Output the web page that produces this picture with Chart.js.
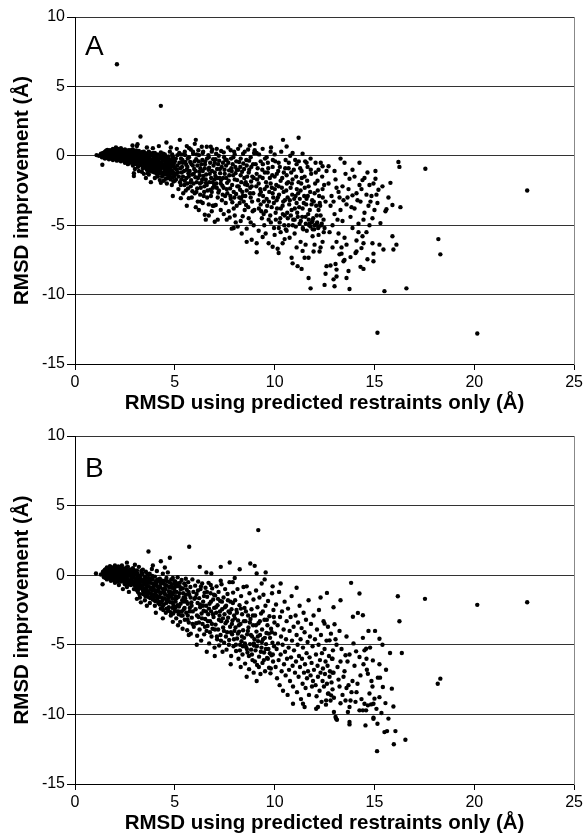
<!DOCTYPE html>
<html><head><meta charset="utf-8">
<script src="https://cdn.jsdelivr.net/npm/chart.js@4.4.0/dist/chart.umd.min.js"></script>
<style>html,body{margin:0;padding:0;background:#fff;}canvas{display:block;}</style>
</head><body>
<canvas id="cA" width="586" height="417"></canvas>
<canvas id="cB" width="586" height="417"></canvas>
<script>
// ---- axis text ----
const xTitle = 'RMSD using predicted restraints only (Å)';
const yTitle = 'RMSD improvement (Å)';
const xRange = [0, 25];
const yRange = [-15, 10];
const tickStep = 5;
const panelLabels = ['A', 'B'];

// ---- Panel A values [RMSD predicted-only, improvement] ----
const outliersA = [[2.1,6.6],[4.3,3.6],[1.08,0.05],[1.37,-0.65],[3.28,1.39],[2.88,0.74],[3.13,0.84],[4.58,0.96],[5.25,1.15],[6.05,1.15],[6.0,0.86],[7.67,1.15],[9.0,0.86],[10.42,1.15],[10.6,0.67],[11.2,1.3],[8.28,0.74],[8.75,0.74]];
const coreA = [[1.2,0.0],[1.3,0.15],[1.35,-0.1],[1.4,0.2],[1.45,0.0],[1.5,-0.2],[1.5,0.3],[1.55,0.1],[1.6,-0.05],[1.6,0.35],[1.65,0.2],[1.7,-0.25],[1.7,0.05],[1.75,0.4],[1.8,0.15],[1.8,-0.1],[1.85,0.3],[1.9,-0.3],[1.9,0.0],[1.9,0.5],[1.95,0.2],[2.0,-0.15],[2.0,0.1],[2.0,0.4],[2.05,0.6],[2.1,-0.35],[2.1,0.25],[2.1,0.0],[2.15,0.45],[2.2,-0.2],[2.2,0.15],[2.25,0.35],[2.25,-0.05],[2.3,0.55],[2.3,-0.4],[2.35,0.1],[2.4,0.3],[2.4,-0.25],[2.45,-0.05],[2.5,0.45],[2.5,0.15],[2.5,-0.5],
[2.55,-0.3],[2.6,0.3],[2.6,0.0],[2.65,-0.6],[2.7,0.4],[2.7,-0.2],[2.75,0.1],[2.8,-0.45],[2.8,0.25],[2.85,-0.1],[2.9,0.45],[2.9,-0.7],[2.95,0.0],[3.0,-0.35],[3.0,0.3],[3.05,-0.55],[3.1,0.1],[3.1,-0.2],[3.15,-0.8],[3.2,0.35],[3.2,-0.05],[3.25,-0.45],[3.3,0.2],[3.3,-0.65],[3.35,-0.25],[3.4,0.05],[3.4,-0.9],[3.45,0.3],[3.5,-0.4],[3.5,-0.1],
[3.55,-0.7],[3.6,0.15],[3.6,-1.0],[3.65,-0.3],[3.7,-0.55],[3.7,0.3],[3.75,-0.05],[3.8,-0.85],[3.8,-0.35],[3.85,0.1],[3.9,-1.15],[3.9,-0.6],[3.95,-0.2],[4.0,0.2],[4.0,-0.9],[4.05,-0.45],[4.1,-1.3],[4.1,0.0],[4.15,-0.7],[4.2,-0.25],[4.25,-1.05],[4.3,0.25],[4.3,-0.5],[4.35,-0.85],[4.4,-1.4],[4.4,-0.1],[4.45,-0.6],[4.5,0.1],[4.5,-1.15],[4.55,-0.35],[4.6,-0.8],[4.65,-1.6],[4.7,-0.2],[4.7,-1.0],[4.75,0.3],[4.8,-0.55],[4.85,-1.3],[4.9,-0.05],[4.95,-0.8],[5.0,-1.8],[5.0,-0.4],
[2.95,-1.25],[2.95,-1.45],[3.55,-1.6],[3.8,-1.9],[4.3,-1.95],[3.2,-1.1],[4.0,-1.6],[4.6,-2.0],[4.9,-2.9],[4.45,-1.8],[3.7,-1.35],
[3.1,0.7],[3.6,0.6],[4.2,0.7],[3.9,0.55],[4.8,0.6]];
const coreA2 = [[1.42,0.08],[1.53,-0.07],[1.58,0.22],[1.63,0.03],[1.68,0.31],[1.72,-0.12],[1.77,0.18],[1.83,-0.02],[1.87,0.42],[1.93,0.07],[1.97,-0.22],[2.03,0.28],[2.07,-0.08],[2.12,0.52],[2.17,0.02],[2.23,-0.28],[2.27,0.22],[2.33,-0.12],[2.37,0.42],[2.43,0.12],[2.47,-0.38],[2.53,0.28],[2.57,0.05],[2.62,-0.42],[2.67,0.18],[2.72,-0.08],[2.77,0.36],[2.82,-0.28],[2.87,0.12],[2.92,-0.52],[2.97,0.22],[3.02,-0.12],[3.07,0.38],[3.12,-0.4],[3.17,0.02],[3.22,-0.7],[3.27,0.12],[3.32,-0.38],[3.37,0.28],[3.42,-0.55],[3.47,-0.2],[3.52,0.18],[3.57,-0.45],[3.62,-0.15],[3.67,-0.82],[3.72,0.1],[3.77,-0.5],[3.82,-1.1],[3.87,-0.25],[3.92,0.2],[3.97,-0.75],[4.02,-0.3],[4.07,-1.05],[4.12,0.1],[4.17,-0.48],[4.22,-0.9],[4.27,-0.15],[4.32,-1.2],[4.37,-0.35],[4.42,0.15],[4.47,-0.95],[4.52,-0.55],[4.57,-1.35],[4.62,-0.1],[4.67,-0.65],[4.72,-1.45],[4.77,-0.35],[4.82,-1.05],[4.87,0.1],[4.92,-0.6],[4.97,-1.25],
[1.48,0.15],[1.62,0.42],[1.78,-0.2],[1.88,-0.12],[1.98,0.45],[2.08,0.15],[2.18,0.32],[2.28,0.05],[2.38,-0.15],[2.48,0.32],[2.58,-0.2],[2.68,0.05],[2.78,-0.15],[2.88,0.32],[2.98,-0.22],[3.08,-0.3],[3.18,0.2],[3.28,-0.2],[3.38,-0.45],[3.48,0.1],[3.58,-0.28],[3.68,-0.05],[3.78,0.18],[3.88,-0.72],[3.98,-0.45],[4.08,-0.15],[4.18,-1.15],[4.28,-0.7],[4.38,-0.05],[4.48,-0.3],[4.58,-1.1],[4.68,-0.42],[4.78,-0.85],[4.88,-1.55],[4.98,-0.25],
[3.0,-0.95],[3.35,-1.15],[3.65,-1.25],[4.15,-1.5],[4.55,-1.65],[4.85,-2.1],[4.25,-1.75],[3.45,-1.3]];
const coreA3 = [[1.46,-0.12],[1.51,0.18],[1.56,0.36],[1.59,-0.15],[1.64,-0.02],[1.69,0.12],[1.73,0.26],[1.76,-0.05],[1.81,0.34],[1.84,0.08],[1.89,0.22],[1.91,-0.06],[1.94,0.38],[1.99,-0.02],[2.04,0.16],[2.06,-0.25],[2.09,0.38],[2.13,0.08],[2.16,-0.14],[2.19,0.26],[2.24,0.44],[2.26,-0.18],[2.29,0.12],[2.34,-0.3],[2.36,0.22],[2.41,0.0],[2.44,0.38],[2.46,-0.16],[2.51,-0.3],[2.54,0.1],[2.59,0.38],[2.61,-0.12],[2.64,0.22],[2.69,-0.32],[2.71,0.3],[2.74,-0.5],[2.79,0.05],[2.81,0.4],[2.84,-0.38],[2.89,-0.05],[2.91,0.2],[2.94,-0.3],[2.99,0.1],[3.03,-0.45],[3.06,0.2],[3.09,-0.6],[3.13,-0.1],[3.16,0.28],[3.19,-0.35],[3.23,0.05],[3.26,-0.55],[3.29,-0.3],[3.33,0.0],[3.36,-0.65],[3.39,-0.12],[3.43,0.2],[3.46,-0.75],[3.49,-0.35],[3.53,-0.05],[3.56,-0.9],[3.59,-0.55],[3.63,0.0],[3.66,-0.6],[3.69,-1.05],[3.73,-0.25],[3.76,-0.7],[3.79,0.05],[3.83,-0.6],[3.86,-1.0],[3.89,-0.4],[3.93,-0.85],[3.96,-0.05],[3.99,-1.2],[4.03,-0.6],[4.06,-0.2],[4.09,-0.85],[4.13,-1.35],[4.16,-0.3],[4.19,-0.6],[4.23,-1.25],[4.26,0.0],[4.29,-0.95],[4.33,-0.55],[4.36,-1.5],[4.39,-0.75],[4.43,-0.25],[4.46,-1.25],[4.49,-0.7],[4.53,-0.1],[4.56,-0.95],[4.59,-0.45],[4.63,-1.25],[4.66,-0.85],[4.69,-0.05],[4.73,-0.6],[4.76,-1.2],[4.79,-1.7],[4.83,-0.7],[4.86,-0.3],[4.89,-1.1],[4.93,-1.85],[4.96,-0.5],[4.99,-1.45]];
const midA = [[5.1,0.5],[5.3,0.1],[5.4,-0.5],[5.5,0.3],[5.6,0.7],[5.65,-0.2],[5.8,0.45],[5.9,-0.7],[6.1,0.1],[6.2,-0.4],[6.35,0.65],[6.4,0.2],[6.5,-0.9],[6.6,0.65],[6.7,-0.1],[6.8,0.65],[6.85,0.3],[7.0,-0.5],[7.1,0.5],[7.2,0.0],[7.35,-0.8],[7.45,0.25],[7.6,-0.3],[7.8,0.4],[7.9,-0.6],[8.0,0.1],[8.1,-1.0],[8.3,-0.2],[8.5,0.3],[8.6,-0.7],[8.8,-0.1],[9.0,0.4],
[5.1,-1.0],[5.2,-1.5],[5.3,-2.1],[5.35,-1.2],[5.5,-1.8],[5.55,-2.5],[5.6,-1.0],[5.7,-1.5],[5.8,-2.2],[5.85,-3.0],[5.95,-1.3],[6.0,-2.7],[6.1,-1.9],[6.15,-3.3],[6.25,-1.4],[6.3,-2.3],[6.4,-1.1],[6.45,-2.9],[6.55,-1.7],[6.6,-2.1],[6.7,-3.5],[6.75,-1.3],[6.85,-2.6],[6.9,-1.9],[6.95,-3.6],[7.0,-1.2],[7.1,-2.3],[7.15,-3.0],[7.25,-1.6],[7.3,-2.0],[7.4,-2.8],[7.5,-1.3],[7.55,-3.4],[7.6,-2.4],[7.7,-1.8],[7.8,-3.1],[7.85,-1.1],[7.95,-2.6],[8.0,-1.7],[8.1,-3.6],[8.2,-2.2],[8.3,-1.4],[8.4,-2.9],[8.45,-3.3],[8.55,-1.9],[8.6,-2.5],[8.7,-1.2],[8.8,-3.0],[8.85,-2.2],[8.95,-1.6],
[6.5,-4.25],[6.7,-4.3],[6.9,-3.6],[7.15,-4.6],[7.6,-4.6],[7.85,-5.25],[8.15,-5.1],[8.6,-5.25],[8.6,-6.2],[8.85,-6.05],[9.1,-6.95],[7.3,-3.9],[7.7,-4.0],[8.0,-4.3],[8.3,-4.7],[8.5,-3.9],[8.7,-4.5],[8.9,-4.0],[8.95,-5.0],[7.95,-3.8],[8.25,-3.4],[6.2,-3.9],[5.7,-3.05],[5.3,-3.05],[6.3,-3.3]];
const midA2 = [[5.05,-0.2],[5.08,-1.3],[5.12,-0.7],[5.18,-2.4],[5.22,0.2],[5.27,-0.9],[5.33,-1.7],[5.38,-0.3],[5.42,-2.7],[5.46,-1.1],[5.52,0.05],[5.57,-0.65],[5.62,-2.0],[5.68,-1.25],[5.72,0.55],[5.77,-0.45],[5.82,-1.75],[5.88,-2.55],[5.92,0.15],[5.97,-0.95],[6.03,-1.55],[6.07,-0.25],[6.12,-2.35],[6.18,0.4],[6.22,-1.15],[6.27,-2.8],[6.33,-0.6],[6.37,-1.7],[6.42,0.3],[6.48,-2.2],[6.52,-0.4],[6.57,-1.35],[6.62,-3.0],[6.68,0.05],[6.72,-0.85],[6.78,-2.45],[6.82,-1.6],[6.88,0.45],[6.92,-0.25],[6.97,-2.1],[7.03,-1.45],[7.07,0.15],[7.12,-0.95],[7.18,-2.65],[7.22,-0.35],[7.27,-1.25],[7.32,0.35],[7.38,-2.15],[7.42,-1.6],[7.47,-0.1],[7.52,-2.9],[7.57,-0.7],[7.62,-1.95],[7.67,0.6],[7.72,-1.05],[7.77,-2.35],[7.82,-0.2],[7.88,-3.35],[7.92,-1.4],[7.97,0.3],[8.03,-0.8],[8.07,-2.75],[8.12,-1.75],[8.17,0.5],[8.22,-0.45],[8.27,-2.45],[8.32,-3.1],[8.37,-1.15],[8.42,0.15],[8.47,-0.95],[8.52,-2.05],[8.57,-3.55],[8.62,-1.5],[8.67,0.45],[8.72,-0.35],[8.77,-2.7],[8.82,-1.85],[8.87,-3.3],[8.92,-0.6],[8.97,0.2],
[5.6,-3.6],[6.05,-3.7],[6.4,-3.4],[6.85,-4.0],[7.05,-3.55],[7.45,-4.2],[7.75,-4.45],[8.05,-4.8],[8.4,-4.35],[8.8,-4.8],[7.0,-4.75],[7.95,-5.2],[8.35,-5.6],[6.55,-4.6]];
const midA3 = [[5.03,-0.9],[5.06,-1.7],[5.13,0.05],[5.16,-1.2],[5.23,-0.5],[5.26,-1.9],[5.31,-0.2],[5.36,-0.8],[5.41,-1.5],[5.44,0.1],[5.48,-2.1],[5.53,-0.45],[5.58,-1.6],[5.63,-0.8],[5.66,-2.35],[5.71,-0.1],[5.74,-1.1],[5.79,-1.9],[5.84,-0.6],[5.87,-1.35],[5.91,0.3],[5.94,-2.0],[5.99,-0.4],[6.04,-1.1],[6.08,-2.6],[6.13,-0.7],[6.16,-1.6],[6.21,0.05],[6.26,-2.0],[6.28,-0.9],[6.34,-1.9],[6.38,-0.3],[6.43,-1.45],[6.47,-2.6],[6.51,-0.6],[6.56,-1.95],[6.61,-0.2],[6.64,-2.5],[6.69,-1.0],[6.73,-1.9],[6.77,-0.5],[6.81,-2.9],[6.86,-1.1],[6.91,-2.3],[6.94,-0.7],[6.99,-1.7],[7.04,-0.25],[7.08,-2.0],[7.13,-1.6],[7.17,-0.6],[7.21,-2.5],[7.26,-0.95],[7.31,-1.75],[7.36,-3.2],[7.41,-0.5],[7.44,-2.3],[7.49,-1.0],[7.53,-0.3],[7.58,-1.6],[7.63,-2.7],[7.68,-0.5],[7.73,-1.4],[7.78,-2.9],[7.83,-0.9],[7.87,-2.1],[7.93,-0.1],[7.98,-3.0],[8.04,-1.25],[8.08,-0.4],[8.13,-2.2],[8.18,-1.0],[8.23,-3.0],[8.28,-0.8],[8.33,-1.9],[8.38,-2.6],[8.43,-0.55],[8.48,-1.6],[8.53,-2.9],[8.58,-0.3],[8.63,-2.1],[8.68,-3.7],[8.73,-1.0],[8.78,-2.3],[8.83,-0.8],[8.88,-1.5],[8.93,-2.7],[8.98,-3.9]];
const wideA = [[9.1,0.2],[9.3,-0.4],[9.4,0.5],[9.6,-0.1],[9.8,0.3],[9.9,-0.8],[10.0,0.1],[10.2,-0.5],[10.55,-0.3],[10.7,-0.9],[10.9,0.2],[11.1,-0.6],[11.4,0.15],[11.35,-1.1],[11.6,-0.5],[11.65,-0.8],[11.8,-0.2],[12.05,-0.5],[12.2,-1.0],[12.4,-0.75],[12.6,-1.1],[12.7,-0.75],
[9.1,-1.3],[9.2,-2.0],[9.25,-2.8],[9.3,-3.5],[9.4,-1.6],[9.45,-4.2],[9.5,-2.4],[9.6,-3.1],[9.65,-1.2],[9.7,-4.6],[9.8,-2.0],[9.85,-3.7],[9.9,-2.7],[10.0,-1.5],[10.05,-4.1],[10.1,-3.2],[10.2,-2.2],[10.25,-4.8],[10.3,-1.8],[10.4,-3.6],[10.45,-2.6],[10.5,-4.3],[10.6,-1.4],[10.65,-3.0],[10.7,-5.0],[10.8,-2.3],[10.85,-3.9],[10.9,-1.7],[11.0,-4.6],[11.05,-2.9],[11.1,-3.4],[11.2,-1.9],[11.25,-4.9],[11.3,-2.5],[11.4,-3.8],[11.5,-1.5],[11.55,-4.4],[11.6,-3.1],[11.7,-2.2],[11.75,-4.9],[11.8,-5.1],[11.85,-3.5],[11.9,-4.7],[12.0,-2.7],[12.1,-4.95],[12.15,-1.8],[12.2,-3.9],[12.3,-4.3],[12.4,-2.4],[12.5,-5.2],[12.55,-3.3],
[9.4,-5.85],[9.7,-6.3],[9.9,-6.55],[10.15,-6.7],[9.1,-6.3],[10.3,-5.5],[10.5,-6.0],[10.85,-7.35],[10.9,-7.75],[11.15,-7.95],[11.35,-8.15],[11.4,-6.85],[11.5,-7.35],[11.7,-7.35],[11.7,-8.8],[11.8,-9.55],[11.0,-5.6],[11.3,-6.2],[11.9,-5.8],[12.25,-6.9],[12.3,-6.6],[12.5,-9.3],[12.55,-8.5],[12.6,-7.95],[12.2,-5.7],[12.0,-6.4],[10.6,-5.4]];
const wideA2 = [[9.05,-0.6],[9.12,-1.7],[9.18,-3.2],[9.22,0.1],[9.28,-2.4],[9.33,-4.0],[9.38,-1.0],[9.42,-2.9],[9.48,-5.0],[9.52,-0.2],[9.57,-1.9],[9.63,-3.6],[9.68,-0.9],[9.73,-2.6],[9.78,-4.3],[9.82,0.6],[9.88,-1.4],[9.93,-3.0],[9.97,-5.2],[10.03,-0.4],[10.08,-2.1],[10.12,-3.8],[10.18,-1.1],[10.22,-2.8],[10.28,-4.5],[10.33,0.3],[10.38,-1.6],[10.43,-3.3],[10.48,-5.0],[10.53,-0.9],[10.58,-2.5],[10.63,-4.1],[10.68,-1.9],[10.73,-3.5],[10.78,0.0],[10.83,-1.2],[10.88,-2.8],[10.93,-4.6],[10.98,-3.1],[11.03,-0.3],[11.08,-1.5],[11.13,-4.1],[11.18,-2.7],[11.23,-3.7],[11.28,-0.9],[11.33,-2.0],[11.38,-4.4],[11.43,-5.3],[11.48,-2.9],[11.53,-0.4],[11.58,-3.5],[11.63,-1.8],[11.68,-4.2],[11.73,-5.0],[11.78,-2.6],[11.83,-1.3],[11.88,-3.2],[11.93,-4.5],[11.98,-5.3],[12.03,-2.0],[12.08,-3.6],[12.13,-4.8],[12.18,-5.2],[12.23,-2.9],[12.28,-3.6],[12.33,-5.0],[12.38,-1.5],[12.45,-4.6],[12.48,-2.1],
[9.2,-5.4],[9.55,-5.6],[10.0,-5.7],[10.4,-6.3],[10.75,-5.9],[11.1,-6.6],[11.55,-6.4],[11.95,-6.9],[12.4,-6.2],[10.2,-7.0]];
const wideA3 = [[9.08,-2.2],[9.15,-0.9],[9.21,-3.8],[9.26,-1.5],[9.31,-2.6],[9.36,-4.5],[9.41,-0.6],[9.46,-3.3],[9.51,-1.2],[9.56,-4.0],[9.61,-2.2],[9.66,-0.5],[9.71,-3.3],[9.76,-1.6],[9.81,-4.8],[9.86,-2.3],[9.91,-0.3],[9.96,-3.4],[10.01,-2.4],[10.06,-4.6],[10.11,-1.3],[10.16,-3.0],[10.21,-5.2],[10.26,-0.8],[10.31,-3.8],[10.36,-2.3],[10.41,-4.2],[10.46,-1.2],[10.51,-3.2],[10.56,-5.3],[10.61,-2.0],[10.66,-4.5],[10.71,-0.5],[10.76,-3.2],[10.81,-4.3],[10.86,-2.0],[10.91,-5.0],[10.96,-1.0],[11.01,-3.8],[11.06,-5.1],[11.11,-2.4],[11.16,-4.4],[11.21,-0.4],[11.26,-3.1],[11.31,-4.7],[11.36,-1.6],[11.41,-5.2],[11.46,-3.4],[11.51,-2.3],[11.56,-4.9],[11.61,-5.4],[11.66,-2.9],[11.71,-4.6],[11.76,-3.9],[11.81,-1.0],[11.86,-4.8],[11.91,-5.3],[11.96,-3.3],[12.01,-5.0],[12.06,-1.2],[12.11,-4.3],[12.16,-2.5],[12.21,-5.1],[12.26,-3.4],[12.31,-0.5],[12.36,-4.9],[12.41,-3.0],[12.46,-5.5]];
const tailA = [[13.0,-1.1],[13.3,-0.2],[13.5,-0.5],[13.75,-1.65],[13.9,-1.0],[14.25,-0.5],[14.25,-2.1],[14.4,-1.75],[14.5,-1.6],[14.75,-2.1],[14.85,-2.9],[15.05,-1.1],[15.05,-1.65],[15.1,-2.8],[15.2,-2.45],[15.8,-1.95],[16.2,-0.45],[16.25,-0.8],[17.55,-0.93],[22.65,-2.5],[13.2,-2.6],[13.25,-3.0],[13.65,-3.0],[13.9,-2.85],[14.1,-2.7],
[12.8,-3.6],[13.0,-4.2],[13.1,-2.3],[13.3,-3.9],[13.4,-4.7],[13.6,-3.5],[13.8,-4.4],[13.9,-5.2],[14.0,-3.8],[14.2,-4.9],[14.3,-3.3],[14.5,-4.1],[14.6,-5.5],[14.7,-3.6],[14.9,-4.5],[15.0,-3.9],[15.3,-4.85],[15.55,-4.0],[15.6,-3.85],[15.9,-3.55],[16.3,-3.7],[12.9,-5.0],[13.2,-5.6],[13.5,-5.9],[14.1,-6.1],[14.4,-5.8],[15.9,-5.8],[16.1,-6.4],[15.95,-6.75],[15.45,-6.75],[15.25,-6.4],[14.95,-7.05],[14.95,-7.6],[14.65,-7.45],[14.45,-8.15],[14.9,-6.3],[14.45,-6.3],[14.35,-6.65],[14.1,-6.9],[14.05,-7.0],[13.35,-6.6],[13.35,-7.05],[13.45,-7.6],[13.5,-7.5],[13.25,-7.1],[13.1,-8.2],[13.1,-8.7],[13.6,-8.8],[13.7,-8.3],[13.75,-9.6],[13.0,-9.4],[12.8,-7.9],[13.05,-7.8],[15.5,-9.75],[16.6,-9.55],[18.2,-6.0],[18.3,-7.1],[15.15,-12.75],[20.15,-12.8]];
const tailA2 = [[12.7,-2.0],[12.85,-2.9],[12.95,-3.3],[13.05,-1.7],[13.15,-4.6],[13.4,-2.2],[13.45,-3.2],[13.55,-1.3],[13.7,-2.4],[13.85,-3.7],[14.0,-1.5],[14.15,-3.2],[14.35,-2.4],[14.45,-4.6],[14.6,-2.8],[14.65,-1.2],[14.8,-3.3],[14.95,-2.0],[15.15,-3.4],[15.4,-2.2],[15.7,-3.0],[13.1,-6.2],[13.6,-6.4],[14.2,-5.5],[14.75,-5.0],[12.75,-5.5],[12.9,-6.6],[13.8,-7.3],[12.95,-8.9],[14.3,-8.0]];

// ---- Panel B values ----
const outliersB = [[3.68,1.7],[4.75,1.25],[4.3,1.0],[5.72,2.04],[9.18,3.24],[7.75,0.91],[8.78,0.84],[9.0,0.67],[7.3,0.6],[6.25,0.6],[6.58,0.2],[6.83,0.12],[8.25,0.43],[9.55,0.2],[9.1,0.12],[3.0,0.75],[2.6,0.9],[3.9,0.7],[4.5,0.55],[1.05,0.12],[1.38,-0.65],[7.9,-0.5],[8.0,-0.2],[9.5,-0.3],[9.35,-0.6],[9.9,-0.8],[8.6,-0.8],[7.3,-0.4],[6.8,-0.7]];
const coreB = [[1.3,0.05],[1.4,0.25],[1.45,-0.15],[1.5,0.4],[1.55,0.1],[1.6,-0.3],[1.6,0.55],[1.65,0.2],[1.7,-0.05],[1.75,0.65],[1.8,0.35],[1.8,-0.4],[1.85,0.05],[1.9,0.5],[1.9,-0.2],[1.95,0.25],[2.0,-0.55],[2.0,0.7],[2.05,0.0],[2.1,0.4],[2.1,-0.3],[2.15,0.15],[2.2,-0.7],[2.2,0.55],[2.25,-0.1],[2.3,0.3],[2.3,-0.45],[2.35,0.7],[2.4,0.05],[2.45,-0.25],[2.5,0.45],[2.5,-0.65],[2.55,0.2],[2.6,-0.1],[2.6,-0.85],[2.65,0.6],[2.7,-0.4],[2.75,0.3],[2.8,0.0],[2.8,-0.7],[2.85,-0.25],[2.9,0.5],[2.95,-1.0],[3.0,0.1],[3.0,-0.5],
[3.05,-0.8],[3.1,0.35],[3.1,-0.2],[3.15,-1.2],[3.2,0.6],[3.2,-0.55],[3.25,-1.6],[3.3,0.0],[3.3,-0.9],[3.35,-0.35],[3.4,0.4],[3.4,-1.35],[3.45,-0.65],[3.5,-0.1],[3.5,-1.8],[3.55,0.25],[3.6,-1.05],[3.6,-0.45],[3.65,-1.55],[3.7,0.05],[3.7,-0.8],[3.75,-2.0],[3.8,-0.25],[3.8,-1.3],[3.85,0.45],[3.9,-0.6],[3.9,-1.75],[3.95,-1.0],[4.0,-0.1],[4.0,-2.2],[4.05,-0.45],[4.1,-1.45],[4.1,0.3],[4.15,-0.8],[4.2,-1.9],[4.2,-1.15],[4.25,-0.25],[4.3,-2.4],[4.3,-0.6],[4.35,-1.6],[4.4,0.1],[4.4,-1.0],[4.45,-2.1],[4.5,-0.4],[4.5,-1.35],[4.55,-2.7],[4.6,-0.75],[4.6,-1.8],[4.65,0.2],[4.7,-1.15],[4.7,-2.3],[4.75,-0.5],[4.8,-1.5],[4.8,-2.9],[4.85,-0.9],[4.9,-0.2],[4.9,-2.0],[4.95,-1.25],[5.0,-2.55],[5.0,-0.6],[5.0,-1.7],
[3.1,-1.7],[3.6,-2.2],[4.05,-2.7],[4.4,-3.1],[4.9,-3.35],[3.3,-1.95],[2.7,-1.2],[2.4,-1.0]];
const coreB2 = [[1.42,0.1],[1.47,0.32],[1.52,-0.05],[1.57,0.45],[1.62,0.12],[1.67,-0.18],[1.72,0.38],[1.77,0.02],[1.82,0.58],[1.87,-0.28],[1.92,0.18],[1.97,0.42],[2.02,-0.12],[2.07,0.28],[2.12,-0.45],[2.17,0.62],[2.22,0.08],[2.27,-0.3],[2.32,0.45],[2.37,-0.1],[2.42,0.22],[2.47,-0.52],[2.52,0.05],[2.57,0.55],[2.62,-0.3],[2.67,0.12],[2.72,-0.65],[2.77,0.42],[2.82,-0.12],[2.87,0.2],[2.92,-0.45],[2.97,0.35],[3.02,-0.25],[3.07,-1.05],[3.12,0.15],[3.17,-0.45],[3.22,-1.35],[3.27,-0.15],[3.32,0.3],[3.37,-0.75],[3.42,-1.15],[3.47,-0.3],[3.52,-1.5],[3.57,-0.65],[3.62,0.1],[3.67,-1.2],[3.72,-0.4],[3.77,-1.65],[3.82,-0.9],[3.87,-0.05],[3.92,-1.4],[3.97,-0.7],[4.02,-1.85],[4.07,-1.1],[4.12,-0.3],[4.17,-2.0],[4.22,-1.55],[4.27,-0.85],[4.32,-1.95],[4.37,-0.4],[4.42,-2.5],[4.47,-1.25],[4.52,-0.7],[4.57,-2.0],[4.62,-1.45],[4.67,-2.55],[4.72,-0.85],[4.77,-1.95],[4.82,-0.3],[4.87,-1.7],[4.92,-2.75],[4.97,-1.05],
[1.55,0.28],[1.68,0.5],[1.78,-0.25],[1.88,0.3],[1.98,0.02],[2.08,-0.2],[2.18,0.35],[2.28,0.55],[2.38,0.28],[2.48,0.05],[2.58,-0.45],[2.68,0.32],[2.78,-0.35],[2.88,0.02],[2.98,-0.7],[3.08,0.05],[3.18,-0.85],[3.28,-0.45],[3.38,0.1],[3.48,-0.95],[3.58,-1.25],[3.68,-0.2],[3.78,-0.55],[3.88,-1.1],[3.98,-1.55],[4.08,-0.75],[4.18,-0.4],[4.28,-1.3],[4.38,-1.8],[4.48,-0.95],[4.58,-0.2],[4.68,-1.6],[4.78,-1.2],[4.88,-2.35],[4.98,-0.45],
[5.05,-1.5],[5.15,-2.15],[5.25,-0.55],[5.35,-2.6],[5.45,-1.9],[5.55,-1.4],[5.65,-2.9],[5.4,-0.95],[5.2,-2.8],[5.1,-0.8]];
const coreB3 = [[1.44,-0.05],[1.49,0.2],[1.54,-0.2],[1.59,0.3],[1.64,0.45],[1.69,-0.1],[1.74,0.15],[1.79,0.5],[1.84,-0.15],[1.89,0.12],[1.94,-0.35],[1.99,0.6],[2.04,0.32],[2.09,-0.05],[2.14,0.48],[2.19,-0.25],[2.24,0.2],[2.29,-0.15],[2.34,0.05],[2.39,0.5],[2.44,-0.35],[2.49,0.2],[2.54,-0.15],[2.59,0.35],[2.64,-0.55],[2.69,-0.05],[2.74,0.1],[2.79,-0.5],[2.84,0.28],[2.89,-0.6],[2.94,-0.1],[2.99,0.25],[3.04,-0.35],[3.09,-0.65],[3.14,0.0],[3.19,-1.0],[3.24,-0.3],[3.29,-0.7],[3.34,0.15],[3.39,-1.05],[3.44,-0.45],[3.49,-1.25],[3.54,-0.2],[3.59,-0.8],[3.64,-1.4],[3.69,-0.55],[3.74,0.1],[3.79,-1.0],[3.84,-1.5],[3.89,-0.3],[3.94,-0.8],[3.99,-1.8],[4.04,-1.25],[4.09,-0.55],[4.14,-1.65],[4.19,-0.95],[4.24,-2.1],[4.29,-0.4],[4.34,-1.25],[4.39,-2.25],[4.44,-0.6],[4.49,-1.65],[4.54,-1.0],[4.59,-2.4],[4.64,-0.45],[4.69,-1.85],[4.74,-1.35],[4.79,-2.65],[4.84,-0.65],[4.89,-1.4],[4.94,-2.15],[4.99,-0.85],[5.04,-2.3],[5.09,-1.65],[5.14,-0.6],[5.19,-2.6],[5.24,-1.3],[5.29,-2.05],[5.34,-0.95],[5.39,-2.9],[5.44,-1.6],[5.49,-2.35],[5.54,-0.75],[5.59,-1.9],[5.64,-3.2],[5.69,-1.2],[5.74,-2.6],[5.79,-1.6],[5.84,-2.2],[5.89,-3.5]];
const midB = [[5.02,-0.45],[5.04,-1.9],[5.07,-3.1],[5.09,-1.2],[5.11,-2.6],[5.14,-0.15],[5.16,-3.6],[5.19,-1.55],[5.21,-2.25],[5.24,-0.8],[5.27,-3.35],[5.29,-1.0],[5.32,-2.9],[5.34,-0.35],[5.37,-1.8],[5.39,-3.85],[5.42,-1.3],[5.45,-2.45],[5.47,-0.6],[5.5,-3.2],[5.52,-1.65],[5.55,-0.25],[5.57,-2.7],[5.6,-1.05],[5.62,-3.95],[5.65,-2.05],[5.67,-0.5],[5.7,-3.4],[5.72,-1.4],[5.75,-2.35],[5.78,-0.85],[5.8,-4.2],[5.83,-1.95],[5.85,-3.05],[5.88,-0.3],[5.9,-2.6],[5.93,-1.2],[5.95,-3.7],[5.98,-1.7],
[6.02,-0.75],[6.04,-2.45],[6.07,-3.45],[6.09,-1.35],[6.12,-4.35],[6.14,-2.0],[6.17,-0.45],[6.19,-3.0],[6.22,-1.65],[6.24,-3.9],[6.27,-2.3],[6.29,-1.0],[6.32,-4.7],[6.34,-2.75],[6.37,-0.6],[6.39,-3.5],[6.42,-1.9],[6.44,-2.55],[6.47,-4.25],[6.49,-1.25],[6.52,-3.15],[6.54,-0.9],[6.57,-2.2],[6.59,-4.0],[6.62,-1.55],[6.64,-3.65],[6.67,-2.8],[6.69,-0.55],[6.72,-4.9],[6.74,-2.05],[6.77,-3.3],[6.79,-1.3],[6.82,-2.6],[6.84,-4.4],[6.87,-0.95],[6.89,-3.85],[6.92,-1.75],[6.94,-3.0],[6.97,-2.35],[6.99,-5.2],
[7.02,-1.45],[7.04,-3.55],[7.07,-2.7],[7.09,-0.8],[7.12,-4.6],[7.14,-2.15],[7.17,-3.9],[7.19,-1.2],[7.22,-5.05],[7.24,-2.9],[7.27,-1.85],[7.29,-4.3],[7.32,-3.3],[7.34,-0.65],[7.37,-2.45],[7.39,-5.5],[7.42,-3.75],[7.44,-1.6],[7.47,-4.85],[7.49,-2.8],[7.52,-1.0],[7.54,-3.45],[7.57,-2.2],[7.59,-5.35],[7.62,-4.1],[7.64,-1.35],[7.67,-3.05],[7.69,-2.6],[7.72,-4.65],[7.74,-0.5],[7.77,-3.7],[7.79,-1.9],[7.82,-5.8],[7.84,-2.45],[7.87,-4.25],[7.89,-3.25],[7.92,-1.25],[7.94,-5.1],[7.97,-2.9],[7.99,-4.0],
[8.02,-1.8],[8.04,-3.75],[8.07,-5.45],[8.09,-2.5],[8.12,-4.55],[8.14,-1.0],[8.17,-3.25],[8.19,-6.0],[8.22,-4.05],[8.24,-2.15],[8.27,-5.0],[8.29,-3.5],[8.32,-1.5],[8.34,-4.75],[8.37,-2.8],[8.39,-5.7],[8.42,-3.95],[8.44,-0.85],[8.47,-4.5],[8.49,-2.35],[8.52,-6.35],[8.54,-3.3],[8.57,-5.15],[8.59,-1.95],[8.62,-4.25],[8.64,-5.55],[8.67,-2.9],[8.69,-3.75],[8.72,-6.75],[8.74,-1.3],[8.77,-4.95],[8.79,-3.15],[8.82,-5.35],[8.84,-2.45],[8.87,-4.4],[8.89,-6.1],[8.92,-3.6],[8.94,-1.75],[8.97,-5.05],[8.99,-4.6],
[9.02,-2.9],[9.04,-5.4],[9.07,-1.1],[9.09,-4.05],[9.12,-6.45],[9.14,-2.3],[9.17,-4.75],[9.19,-3.45],[9.22,-5.85],[9.24,-1.6],[9.27,-4.3],[9.29,-7.1],[9.32,-2.75],[9.34,-5.2],[9.37,-3.9],[9.39,-6.3],[9.42,-4.6],[9.44,-1.4],[9.47,-5.55],[9.49,-3.2],[9.52,-6.9],[9.54,-2.2],[9.57,-4.95],[9.59,-4.15],[9.62,-5.95],[9.64,-3.6],[9.67,-1.85],[9.69,-5.3],[9.72,-6.65],[9.74,-2.95],[9.77,-4.5],[9.79,-7.05],[9.82,-3.85],[9.84,-5.75],[9.87,-1.3],[9.89,-4.85],[9.92,-6.2],[9.94,-2.5],[9.97,-5.1],[9.99,-3.4],
[6.1,-5.0],[6.6,-5.5],[7.0,-5.8],[5.7,-4.3],[7.8,-6.4],[8.6,-7.3],[9.1,-7.6],[8.3,-6.6],[8.95,-7.0]];
const midB2 = [[6.03,-1.6],[6.11,-2.9],[6.16,-1.1],[6.21,-3.4],[6.26,-2.1],[6.31,-0.8],[6.36,-3.1],[6.41,-2.2],[6.46,-1.5],[6.51,-3.7],[6.56,-2.6],[6.61,-1.2],[6.66,-3.3],[6.71,-2.4],[6.76,-4.1],[6.81,-1.9],[6.86,-3.5],[6.91,-2.8],[6.96,-1.4],[7.01,-3.9],[7.06,-2.3],[7.11,-4.4],[7.16,-1.7],[7.21,-3.2],[7.26,-2.6],[7.31,-4.7],[7.36,-1.9],[7.41,-3.1],[7.46,-4.0],[7.51,-2.3],[7.56,-4.4],[7.61,-3.3],[7.66,-1.8],[7.71,-5.0],[7.76,-2.7],[7.81,-4.1],[7.86,-3.5],[7.91,-2.0],[7.96,-4.6],[8.01,-3.1],[8.06,-5.0],[8.11,-2.7],[8.16,-4.2],[8.21,-3.6],[8.26,-5.4],[8.31,-2.4],[8.36,-4.4],[8.41,-5.1],[8.46,-3.3],[8.51,-4.9],[8.56,-2.6],[8.61,-5.3],[8.66,-4.0],[8.71,-5.8],[8.76,-3.4],[8.81,-4.3],[8.86,-5.7],[8.91,-2.9],[8.96,-4.9],[9.01,-6.2],[9.06,-3.6],[9.11,-5.1],[9.16,-4.4],[9.21,-6.6],[9.26,-3.3],[9.31,-5.5],[9.36,-4.8],[9.41,-2.6],[9.46,-6.1],[9.51,-4.5],[9.56,-5.3],[9.61,-3.2],[9.66,-6.0],[9.71,-4.2],[9.76,-5.6],[9.81,-6.7],[9.86,-4.1],[9.91,-5.7],[9.96,-3.0]];
const wideB = [[10.02,-4.2],[10.05,-6.6],[10.07,-2.1],[10.1,-5.3],[10.12,-7.4],[10.15,-3.6],[10.17,-4.9],[10.2,-6.1],[10.22,-1.2],[10.25,-7.9],[10.27,-3.0],[10.3,-5.7],[10.32,-4.4],[10.35,-6.9],[10.37,-2.6],[10.4,-5.0],[10.42,-8.3],[10.45,-3.9],[10.47,-6.4],[10.5,-1.9],[10.52,-5.5],[10.55,-7.2],[10.57,-4.6],[10.6,-3.3],[10.62,-6.0],[10.65,-8.6],[10.67,-2.4],[10.7,-5.2],[10.72,-6.8],[10.75,-4.0],[10.77,-7.6],[10.8,-3.0],[10.82,-5.9],[10.85,-1.5],[10.87,-4.7],[10.9,-6.5],[10.92,-8.0],[10.95,-3.7],[10.97,-5.4],
[11.02,-7.0],[11.05,-2.9],[11.07,-6.2],[11.1,-4.3],[11.12,-8.4],[11.15,-5.0],[11.17,-3.4],[11.2,-7.3],[11.22,-5.8],[11.25,-2.2],[11.27,-6.6],[11.3,-4.6],[11.32,-8.9],[11.35,-3.8],[11.37,-6.0],[11.4,-7.8],[11.42,-5.2],[11.45,-2.7],[11.47,-7.0],[11.5,-4.1],[11.52,-6.4],[11.55,-8.1],[11.57,-3.2],[11.6,-5.6],[11.62,-7.4],[11.65,-4.8],[11.67,-6.9],[11.7,-1.8],[11.72,-8.6],[11.75,-5.9],[11.77,-4.4],[11.8,-7.2],[11.82,-3.5],[11.85,-6.3],[11.87,-8.0],[11.9,-5.1],[11.92,-7.6],[11.95,-2.9],[11.97,-6.8],
[12.02,-4.6],[12.05,-7.9],[12.07,-5.7],[12.1,-8.7],[12.12,-3.9],[12.15,-6.5],[12.17,-7.3],[12.2,-5.0],[12.22,-2.5],[12.25,-8.3],[12.27,-6.1],[12.3,-7.0],[12.32,-4.3],[12.35,-9.1],[12.37,-5.6],[12.4,-7.6],[12.42,-6.7],[12.45,-3.3],[12.47,-8.0],[12.5,-5.3],[12.52,-7.1],[12.55,-6.2],[12.57,-9.3],[12.6,-4.7],[12.62,-7.8],[12.65,-6.5],[12.67,-3.7],[12.7,-8.5],[12.72,-5.8],[12.75,-7.3],[12.77,-6.9],[12.8,-9.0],[12.82,-4.2],[12.85,-7.7],[12.87,-6.0],[12.9,-8.2],[12.92,-5.4],[12.95,-7.0],[12.97,-8.8],
[10.92,-9.24],[11.42,-9.24],[11.5,-9.47],[12.08,-9.59],[12.17,-9.47],[12.58,-8.99],[12.62,-1.27],[12.67,-8.51],[12.83,-8.63],[12.3,-1.6],[11.1,-0.9],[10.3,-0.6],[12.5,-3.48],[12.75,-4.68]];
const tailB = [[13.83,-0.55],[14.25,-1.32],[13.92,-2.99],[14.17,-2.71],[14.42,-2.88],[16.17,-1.51],[17.53,-1.7],[16.25,-3.31],[15.03,-4.0],[15.25,-4.56],[15.78,-5.59],[16.37,-5.59],[14.42,-4.5],[14.5,-5.4],[14.58,-5.28],[14.78,-5.2],[14.08,-5.47],[14.25,-5.88],[13.55,-5.75],[13.75,-5.7],[14.92,-6.12],[15.25,-6.4],[15.58,-6.79],[14.62,-6.79],[14.67,-7.08],[15.17,-7.36],[15.28,-7.36],[15.42,-8.03],[15.87,-8.15],[15.95,-9.43],[15.55,-9.19],[15.25,-8.76],[15.0,-8.87],[14.95,-9.24],[14.83,-9.28],[14.67,-9.35],[14.5,-9.24],[14.25,-9.71],[14.42,-9.71],[14.58,-9.71],[14.95,-10.24],[15.15,-10.67],[14.55,-10.79],[15.5,-11.27],[15.63,-11.2],[16.05,-11.2],[15.97,-12.14],[16.55,-11.82],[15.13,-12.64],[13.75,-10.55],[13.75,-10.72],[13.05,-10.19],[13.12,-10.38],[12.97,-9.83],[13.67,-9.83],[13.75,-9.47],[13.0,-3.52],[13.25,-4.0],[13.1,-5.0],[13.3,-6.2],[13.5,-6.9],[13.2,-7.5],[13.6,-8.1],[13.4,-8.6],[13.9,-7.6],[14.1,-8.4],[14.3,-7.2],[14.0,-6.5],[13.8,-9.0],[13.3,-9.2],[12.9,-7.0],[12.9,-6.0],[14.9,-8.0],[20.15,-2.13],[22.65,-1.94],[18.17,-7.8],[18.3,-7.43],[14.95,-10.31],[13.08,-10.31],[12.95,-2.3],[13.3,-1.8],[15.4,-5.0],[14.7,-4.0],[13.6,-4.4],
[13.15,-6.6],[13.45,-7.3],[13.65,-6.2],[13.85,-8.4],[14.15,-7.8],[14.35,-8.9],[14.45,-6.4],[14.75,-8.5],[14.05,-9.1],[13.55,-9.0],[13.35,-5.3],[13.95,-4.9],[14.85,-7.6],[15.1,-9.6],[15.35,-9.9],[15.7,-10.3],[13.25,-8.0],[14.6,-6.0],[13.05,-4.6],[13.7,-7.9]];

const pointsA = [].concat(outliersA, coreA, coreA2, coreA3, midA, midA2, midA3, wideA, wideA2, wideA3, tailA, tailA2);
const pointsB = [].concat(outliersB, coreB, coreB2, coreB3, midB, midB2, wideB, tailB);

const FONT = "'Liberation Sans', Arial, sans-serif";

const labelPlugin = {
  id: 'panelLabel',
  afterDraw(chart, args, opts) {
    const ctx = chart.ctx, a = chart.chartArea;
    ctx.save();
    ctx.font = '28px ' + FONT;
    ctx.fillStyle = '#000';
    ctx.textBaseline = 'alphabetic';
    ctx.fillText(opts.text, a.left + 10, a.top + opts.dy);
    ctx.restore();
  }
};

function makeChart(id, pts, label, cfg) {
  new Chart(document.getElementById(id), {
    type: 'scatter',
    data: { datasets: [{ data: pts.map(p => ({x: p[0], y: p[1]})), backgroundColor: '#000', borderWidth: 0, pointRadius: 2.2, pointHoverRadius: 2.2 }] },
    options: {
      responsive: false, animation: false, devicePixelRatio: 1,
      layout: { padding: { top: cfg.top, right: 11, left: 0, bottom: 0 } },
      plugins: { legend: { display: false }, tooltip: { enabled: false }, panelLabel: { text: label, dy: cfg.dy } },
      scales: {
        x: {
          type: 'linear', min: xRange[0], max: xRange[1],
          ticks: { stepSize: tickStep, color: '#000', font: { family: FONT, size: 16 }, padding: 3, maxRotation: 0 },
          grid: { drawOnChartArea: false, drawTicks: true, tickLength: 6, tickColor: '#000' },
          border: { color: '#000', width: 1 },
          title: { display: true, text: xTitle, color: '#000', font: { family: FONT, size: 20.5, weight: 'bold' }, padding: { top: 0, bottom: cfg.xtpad } },
          afterFit: s => { s.height = cfg.xh; }
        },
        y: {
          type: 'linear', min: yRange[0], max: yRange[1],
          ticks: { stepSize: tickStep, color: '#000', font: { family: FONT, size: 16 }, padding: 2 },
          grid: { color: '#333', lineWidth: 1, drawTicks: true, tickLength: 8, tickColor: '#000' },
          border: { color: '#000', width: 1 },
          title: { display: true, text: yTitle, color: '#000', font: { family: FONT, size: 20.5, weight: 'bold' }, padding: { top: 10, bottom: 0 } },
          afterFit: s => { s.width = 75; }
        },
        y2: {
          type: 'linear', position: 'right', min: yRange[0], max: yRange[1],
          ticks: { display: false }, grid: { display: false },
          border: { color: '#888', width: 1 },
          afterFit: s => { s.width = 0; }
        }
      }
    },
    plugins: [labelPlugin]
  });
}

makeChart('cA', pointsA, panelLabels[0], { top: 17, xh: 53, xtpad: 1, dy: 38 });
makeChart('cB', pointsB, panelLabels[1], { top: 19, xh: 50, xtpad: -2, dy: 41 });
</script>
</body></html>
